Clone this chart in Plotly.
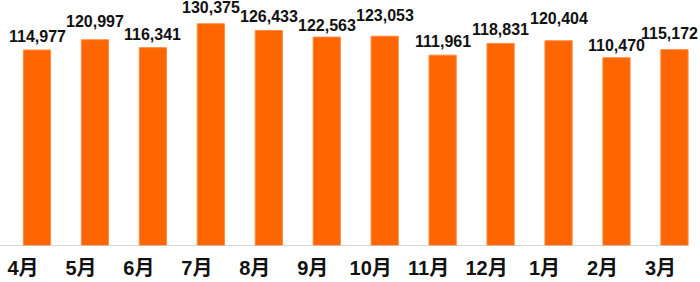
import plotly.graph_objects as go

months = ["4月", "5月", "6月", "7月", "8月", "9月", "10月", "11月", "12月", "1月", "2月", "3月"]
values = [114977, 120997, 116341, 130375, 126433, 122563, 123053, 111961, 118831, 120404, 110470, 115172]

# styling tweaks for value labels (pixel gap above bar, horizontal nudge)
label_gap = [7, 12, 7, 10, 7, 5, 14, 7, 7, 16, 6, 10]
label_dx = [0, 0, 0, 0, 0, 0, 0, 0, 0, 0, 0, -5]

FONT = "Liberation Sans, Noto Sans CJK JP"
ORANGE = "#FF6600"

fig = go.Figure()
fig.add_trace(go.Bar(
    x=months, y=values,
    width=0.47,
    marker=dict(color=ORANGE, line=dict(color="#FF8A40", width=1)),
    hoverinfo="skip",
))

x0 = -0.6385
x1 = x0 + 700 / 57.95
ymax = 246 / 0.0017047

fig.add_shape(type="line", xref="x", yref="y",
              x0=x0, x1=x0 + 689 / 57.95, y0=0, y1=0,
              line=dict(color="#C8C8CC", width=1.5), layer="above")

for i, (m, v) in enumerate(zip(months, values)):
    fig.add_annotation(x=m, y=v, text=f"{v:,}", showarrow=False,
                       xref="x", yref="y", yanchor="bottom",
                       yshift=label_gap[i] - 4, xshift=label_dx[i],
                       font=dict(family=FONT, size=16, color="#111111", weight="bold"))

fig.update_layout(
    width=700, height=282,
    margin=dict(l=0, r=0, t=0, b=36),
    paper_bgcolor="white", plot_bgcolor="white",
    showlegend=False,
    bargap=0.5,
)
fig.update_xaxes(range=[x0, x1], showgrid=False, showline=False, zeroline=False,
                 ticks="", tickfont=dict(family=FONT, size=20, color="#111111", weight="bold"),
                 ticklabelshift=-14, ticklabelstandoff=8, fixedrange=True)
fig.update_yaxes(range=[0, ymax], showgrid=False, showline=False, zeroline=False,
                 showticklabels=False, ticks="", fixedrange=True)

fig.write_html("out.html")
